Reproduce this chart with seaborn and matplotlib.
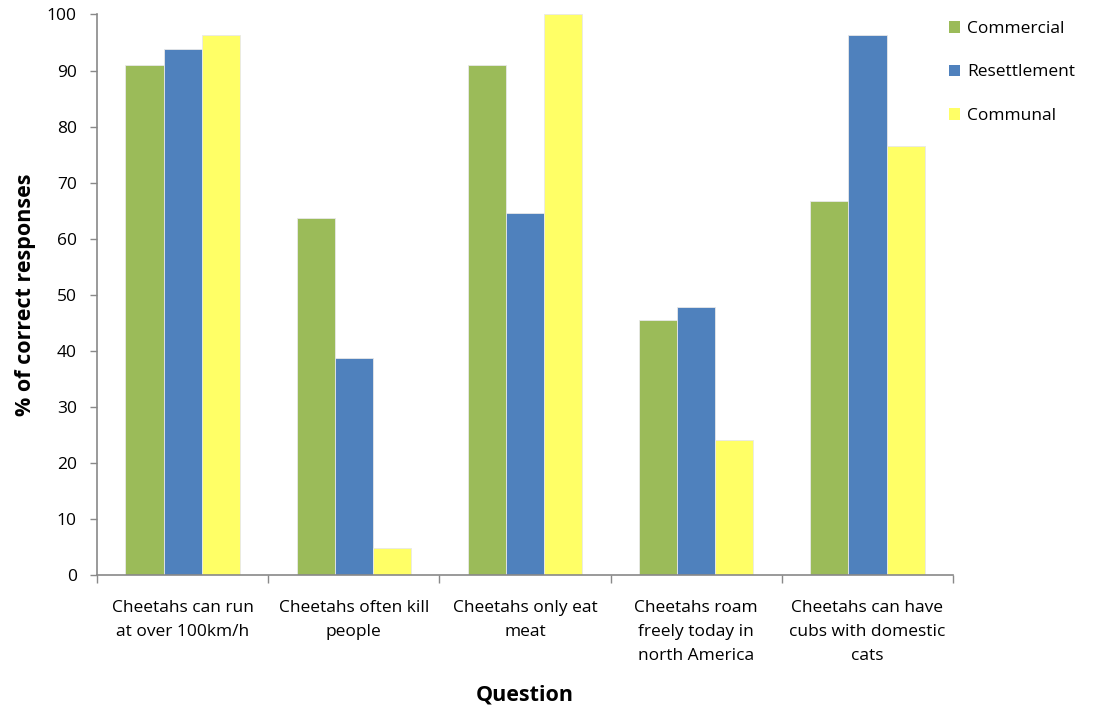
import pandas as pd
import numpy as np
import matplotlib
matplotlib.use("Agg")
import matplotlib.pyplot as plt
import seaborn as sns

# Chart data
questions = [
    "Cheetahs can run\nat over 100km/h",
    "Cheetahs often kill\npeople",
    "Cheetahs only eat\nmeat",
    "Cheetahs roam\nfreely today in\nnorth America",
    "Cheetahs can have\ncubs with domestic\ncats",
]
groups = ["Commercial", "Resettlement", "Communal"]
commercial = [90.9, 63.6, 90.9, 45.5, 66.7]
resettlement = [93.8, 38.7, 64.5, 47.8, 96.3]
communal = [96.4, 4.8, 100.0, 24.1, 76.5]
colors = ["#9BBB59", "#4F81BD", "#FFFF66"]

df = pd.DataFrame({
    "Question": questions * 3,
    "Group": [g for g in groups for _ in questions],
    "Value": commercial + resettlement + communal,
})

sns.set_theme(style="white")
plt.rcParams["font.family"] = ["Open Sans", "DejaVu Sans"]
plt.rcParams["text.color"] = "black"
plt.rcParams["xtick.color"] = "black"
plt.rcParams["ytick.color"] = "black"
plt.rcParams["axes.labelcolor"] = "black"

fig = plt.figure(figsize=(10.93, 7.06), dpi=100)
ax = fig.add_axes([0.0887, 0.1856, 0.7833, 0.7939])

sns.barplot(data=df, x="Question", y="Value", hue="Group", palette=colors,
            width=0.667, gap=0, edgecolor="#e8e8e8", linewidth=0.6,
            saturation=1, ax=ax)

ax.set_xlim(-0.5, 4.5)
ax.set_ylim(0, 100)
ax.set_yticks(np.arange(0, 101, 10))
ax.tick_params(axis="y", labelsize=12.5, length=5, width=1, color="#898989",
               direction="out", left=True, pad=9.5)
ax.set_xticks(range(len(questions)))
ax.set_xticklabels(questions, linespacing=1.65)
ax.set_xticks(np.arange(-0.5, 5, 1), minor=True)
ax.tick_params(axis="x", which="major", length=0, labelsize=12.5, pad=18)
ax.tick_params(axis="x", which="minor", length=6, width=1, color="#898989",
               direction="out", bottom=True)

for s in ["top", "right"]:
    ax.spines[s].set_visible(False)
for s in ["left", "bottom"]:
    ax.spines[s].set_color("#898989")
    ax.spines[s].set_linewidth(1.2)

ax.set_xlabel("Question", fontsize=15.5, fontweight="bold", labelpad=15)
ax.set_ylabel("% of correct responses", fontsize=15.5, fontweight="bold", labelpad=8)

leg = ax.legend(loc="upper left", bbox_to_anchor=(0.862, 0.98),
                bbox_transform=fig.transFigure, frameon=False,
                fontsize=12.5, handlelength=0.65, handleheight=0.65,
                handletextpad=0.4, labelspacing=1.58, borderaxespad=0)
for h in leg.legend_handles:
    h.set_edgecolor("none")

fig.savefig("out.png", dpi=100)
